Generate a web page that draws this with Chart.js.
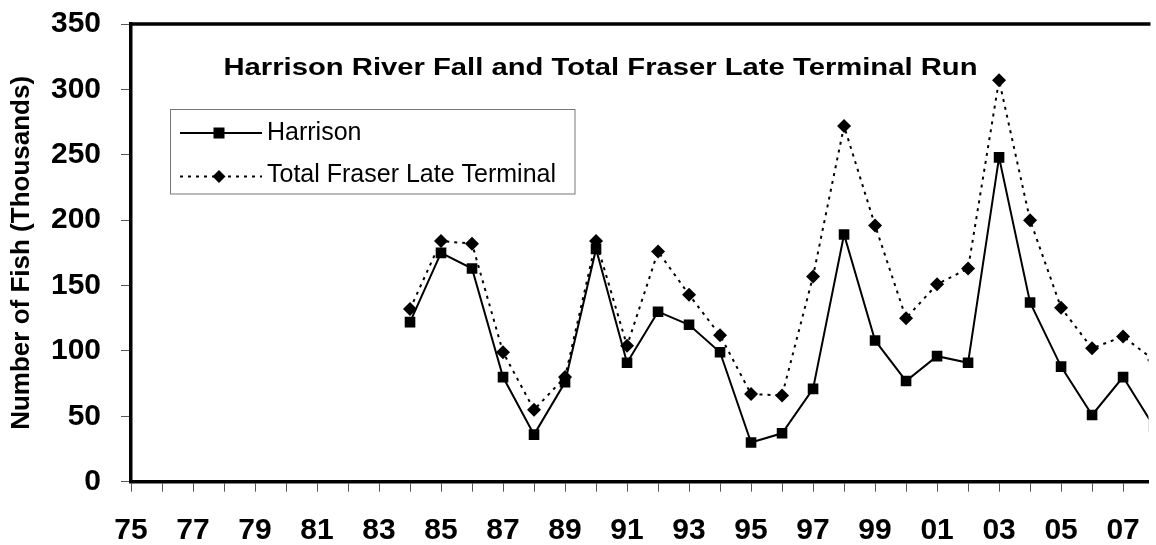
<!DOCTYPE html>
<html>
<head>
<meta charset="utf-8">
<script src="https://cdn.jsdelivr.net/npm/chart.js@4/dist/chart.umd.min.js"></script>
<style>
  html, body { margin: 0; padding: 0; background: #fff; }
  #wrap { position: relative; width: 1156px; height: 545px; }
</style>
</head>
<body>
<div id="wrap"><canvas id="fishChart"></canvas></div>
<script>
// years on the x axis (two-digit labels shown on odd years)
const years = [1975, 1976, 1977, 1978, 1979, 1980, 1981, 1982, 1983, 1984, 1985, 1986,
  1987, 1988, 1989, 1990, 1991, 1992, 1993, 1994, 1995, 1996, 1997, 1998, 1999, 2000,
  2001, 2002, 2003, 2004, 2005, 2006, 2007, 2008];

// thousands of fish
const harrison = [null, null, null, null, null, null, null, null, null,
  122, 175, 163, 80, 36, 76, 178, 91, 130, 120, 99, 30, 37, 71, 189, 108, 77,
  96, 91, 248, 137, 88, 51, 80, 42];
const fraserLate = [null, null, null, null, null, null, null, null, null,
  132, 184, 182, 99, 55, 80, 184, 104, 176, 143, 112, 67, 66, 157, 272, 196, 125,
  151, 163, 307, 200, 133, 102, 111, 93];

const yTicks = [0, 50, 100, 150, 200, 250, 300, 350];
const chartTitle = 'Harrison River Fall and Total Fraser Late Terminal Run';
const yTitle = 'Number of Fish (Thousands)';
const seriesNames = ['Harrison', 'Total Fraser Late Terminal'];

const FONT = '"Liberation Sans", Arial, sans-serif';

function toPoints(vals) {
  return years.map((yr, i) => ({ x: yr, y: vals[i] }));
}

// frame top, title and boxed legend inside the plot area
const decorPlugin = {
  id: 'decor',
  afterDraw(chart) {
    const { ctx, chartArea } = chart;
    ctx.save();

    ctx.strokeStyle = '#000';
    ctx.lineWidth = 3.5;
    ctx.beginPath();
    ctx.moveTo(chartArea.left - 1.5, chartArea.top);
    ctx.lineTo(chartArea.right + 2, chartArea.top);
    ctx.stroke();

    // title, a bit wide like the original
    ctx.font = 'bold 24px ' + FONT;
    ctx.fillStyle = '#000';
    ctx.textBaseline = 'alphabetic';
    ctx.textAlign = 'left';
    const tw = ctx.measureText(chartTitle).width;
    ctx.save();
    ctx.translate(223.5, 75);
    ctx.scale(754 / tw, 1);
    ctx.fillText(chartTitle, 0, 0);
    ctx.restore();

    // legend
    ctx.strokeStyle = '#777';
    ctx.lineWidth = 1;
    ctx.strokeRect(170.5, 109.5, 404.5, 84.5);

    const rows = [{ y: 133, ds: chart.data.datasets[0] }, { y: 176.5, ds: chart.data.datasets[1] }];
    rows.forEach(r => {
      ctx.strokeStyle = '#000';
      ctx.lineWidth = 2;
      ctx.setLineDash(r.ds.borderDash || []);
      ctx.beginPath();
      ctx.moveTo(180, r.y);
      ctx.lineTo(262, r.y);
      ctx.stroke();
      ctx.setLineDash([]);
      ctx.fillStyle = '#000';
      ctx.beginPath();
      if (r.ds.pointStyle === 'rect') {
        ctx.rect(213.5, r.y - 5.5, 11, 11);
      } else {
        ctx.moveTo(219, r.y - 6.5);
        ctx.lineTo(225.5, r.y);
        ctx.lineTo(219, r.y + 6.5);
        ctx.lineTo(212.5, r.y);
        ctx.closePath();
      }
      ctx.fill();
    });
    ctx.font = '25px ' + FONT;
    ctx.fillText(seriesNames[0], 267, 140);
    ctx.fillText(seriesNames[1], 267, 182);

    ctx.restore();
  }
};

new Chart(document.getElementById('fishChart'), {
  type: 'line',
  data: {
    datasets: [
      {
        label: seriesNames[0],
        data: toPoints(harrison),
        borderColor: '#000',
        borderWidth: 2,
        pointStyle: 'rect',
        pointRadius: 7.5,
        pointBackgroundColor: '#000',
        pointBorderColor: '#000',
        pointBorderWidth: 0,
        tension: 0
      },
      {
        label: seriesNames[1],
        data: toPoints(fraserLate),
        borderColor: '#000',
        borderWidth: 2,
        borderDash: [3, 5],
        pointStyle: 'rectRot',
        pointRadius: 7,
        pointBackgroundColor: '#000',
        pointBorderColor: '#000',
        pointBorderWidth: 0,
        tension: 0
      }
    ]
  },
  options: {
    responsive: true,
    maintainAspectRatio: false,
    animation: false,
    layout: { padding: { top: 24, left: 0, right: 0, bottom: 0 } },
    plugins: {
      legend: { display: false },
      title: { display: false },
      tooltip: { enabled: false }
    },
    scales: {
      x: {
        type: 'linear',
        min: years[0],
        max: 2007.82,
        afterFit(s) { s.height = 63.3; s.paddingLeft = 0; s.paddingRight = 0; },
        border: { display: true, color: '#000', width: 3.5 },
        grid: { drawOnChartArea: false, drawTicks: true, tickLength: 10, tickColor: '#555', tickWidth: 1 },
        ticks: {
          stepSize: 1,
          includeBounds: false,
          autoSkip: false,
          maxRotation: 0,
          padding: 21,
          color: '#000',
          font: { family: FONT, size: 30, weight: 'bold' },
          callback: v => (Number.isInteger(v) && v % 2 === 1) ? String(v).slice(2) : ''
        }
      },
      y: {
        min: yTicks[0],
        max: yTicks[yTicks.length - 1],
        afterFit(s) { s.width = 131; s.paddingTop = 0; s.paddingBottom = 0; },
        afterBuildTicks(s) { s.ticks = yTicks.map(v => ({ value: v })); },
        border: { display: true, color: '#000', width: 3.5 },
        grid: { drawOnChartArea: false, drawTicks: true, tickLength: 10, tickColor: '#555', tickWidth: 1 },
        ticks: {
          padding: 20,
          color: '#000',
          font: { family: FONT, size: 30, weight: 'bold' }
        },
        title: {
          display: true,
          text: yTitle,
          color: '#000',
          padding: { top: 6, bottom: 0 },
          font: { family: FONT, size: 26, weight: 'bold' }
        }
      }
    }
  },
  plugins: [decorPlugin]
});
</script>
</body>
</html>
